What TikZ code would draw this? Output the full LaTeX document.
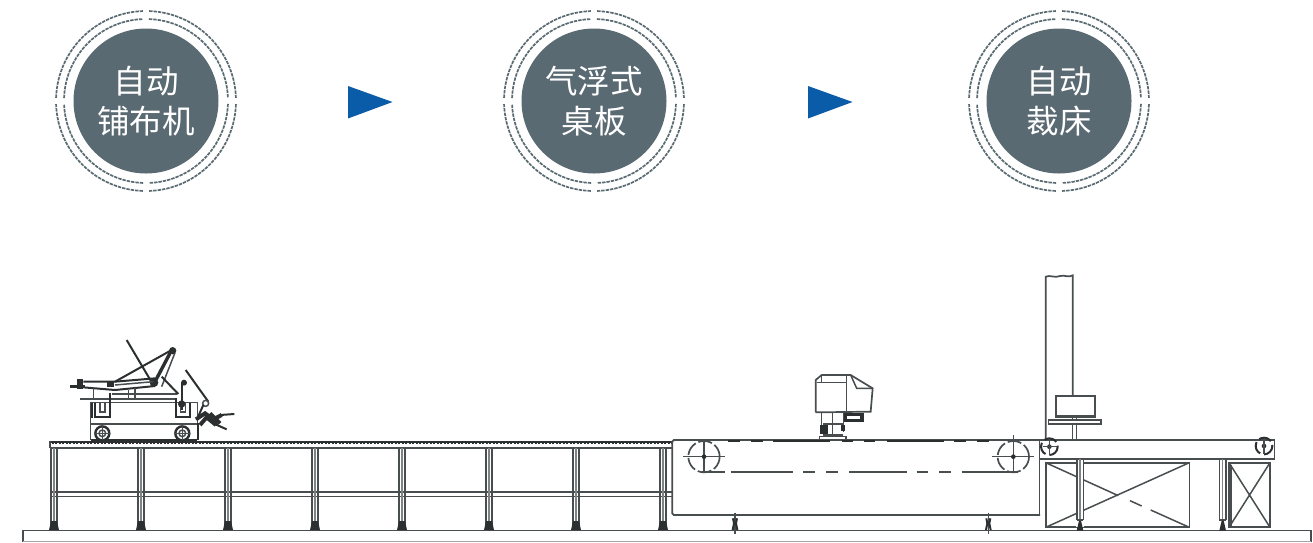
\documentclass[tikz,border=0pt]{standalone}
\usepackage{fontspec}
\setmainfont{Noto Sans CJK SC}
\definecolor{disc}{HTML}{5A6A72}
\definecolor{ink}{HTML}{484E50}
\definecolor{inkdark}{HTML}{2B2F30}
\definecolor{arrowblue}{HTML}{0B5CA8}
\tikzset{
  discnode/.style={circle,fill=disc,minimum size=145pt,inner sep=0pt,text=white,align=center,
    font=\fontsize{32.5}{40}\selectfont},
  ringline/.style={draw=disc,line width=1.7pt,dash pattern=on 3.4pt off 1pt},
  flowtip/.style={fill=arrowblue,draw=none},
  mech/.style={draw=ink,line width=1.5pt},
  mechthin/.style={draw=ink!70,line width=1.1pt},
  mechbold/.style={draw=inkdark,line width=2pt},
  mechheavy/.style={draw=inkdark,line width=3.4pt},
  belt/.style={draw=ink,line width=1.7pt},
}
\newcommand{\stationdisc}[4]{%
  \node[discnode] (#1) at (#2,101) {#3\\[0pt]#4};
  \foreach \qa in {0,90,180,270}{
    \foreach \rr in {82,90}{
      \draw[ringline] ($(#1.center)+(\qa+2:\rr pt and -\rr pt)$) arc[start angle=\qa+2,end angle=\qa+88,radius=\rr];
    }
  }
}
\newcommand{\tableleg}[1]{%
  \draw[mech] (#1-3,448) -- (#1-3,525) (#1+3,448) -- (#1+3,525);
  \draw[mechthin] (#1,448) -- (#1,525);
  \fill[inkdark] (#1-5,530) -- (#1-3,521) -- (#1+3,521) -- (#1+5,530) -- cycle;
}
\usetikzlibrary{calc}
\begin{document}
\begin{tikzpicture}[x=1pt,y=-1pt]
\useasboundingbox (0,0) rectangle (1313,542);
\stationdisc{stationa}{146}{自动}{铺布机}
\stationdisc{stationb}{594}{气浮式}{桌板}
\stationdisc{stationc}{1059}{自动}{裁床}
\fill[flowtip] (348,86) -- (392.5,102) -- (348,118.5) -- cycle;
\fill[flowtip] (808,86) -- (852.5,102) -- (808,118.5) -- cycle;

% floor
\draw[mech,line width=1.9pt] (23,541.5) -- (23,530.5) -- (1311,530.5) -- (1311,541.5);
\draw[draw=ink!50,line width=1.2pt] (23,541.5) -- (1311,541.5);

% spreading table
\draw[mechheavy] (50,442.5) -- (672,442.5);
\draw[draw=white,line width=1pt,dash pattern=on 1.5pt off 2pt] (50,443) -- (672,443);
\draw[mech] (50,448) -- (672,448) (50,440.5) -- (50,448);
\draw[mech] (52,492) -- (672,492) (52,496.5) -- (672,496.5);
\foreach \lx in {54,141,228,315,402,489,576,663}{\tableleg{\lx}}

% spreading machine
\begin{scope}[shift={(40,330)},scale=1/3]
  \draw[mech] (152,330) -- (152,218) -- (472,218) -- (472,330);
  \draw[mech] (120,207) -- (410,207);
  \draw[mech] (215,192) -- (410,192) (152,282) -- (472,282);
  \draw[mechbold] (152,330) -- (472,330);
  \foreach \wx in {187,427}{
    \draw[mechbold,line width=2.4pt] (\wx,310) circle[radius=21];
    \draw[mech] (\wx,310) circle[radius=10];
    \draw[mech] (\wx-24,310) -- (\wx+24,310) (\wx,286) -- (\wx,330);
  }
  \draw[mechbold] (165,218) -- (165,262) -- (210,262) -- (210,190);
  \draw[mech] (180,218) -- (180,246) -- (195,246) -- (195,218);
  \draw[mechbold] (408,205) -- (408,262) -- (450,262) -- (450,218);
  \draw[mech] (422,218) -- (422,246) -- (436,246) -- (436,218);
  \draw[mechbold] (155,220) -- (155,265);
  % bed and arms
  \draw[mechbold] (260,30) -- (340,165);
  \draw[mechbold] (395,60) -- (225,155);
  \draw[mechheavy] (345,155) -- (395,60);
  \draw[mech] (365,170) -- (405,68);
  \fill[inkdark] (398,62) circle[radius=11] (342,158) circle[radius=13];
  \draw[mechheavy] (90,170) -- (135,170);
  \fill[inkdark] (110,148) rectangle (130,178);
  \draw[mechbold] (130,155) -- (225,155) -- (345,145);
  \draw[mechbold] (130,172) -- (225,180) -- (345,168);
  \draw[mech] (225,165) -- (340,155);
  \fill[inkdark] (200,155) rectangle (222,172);
  \draw[mechbold] (365,140) -- (415,192);
  \draw[mech] (160,172) -- (160,205) (265,180) -- (265,205) (285,175) -- (285,205);
  % right side gear
  \draw[mechbold] (425,155) -- (425,240);
  \fill[inkdark] (432,158) circle[radius=9] (425,222) circle[radius=11];
  \draw[mechbold] (437,120) -- (505,215);
  \draw[mech] (497,220) circle[radius=9];
  \draw[mechbold] (490,225) -- (470,270);
  \draw[mechheavy,line width=4pt] (468,268) -- (495,250) -- (520,268) -- (545,255) (480,285) -- (500,262) -- (528,285) (510,250) -- (540,280);
  \draw[mechbold] (540,255) -- (583,252) (520,280) -- (560,298);
  \draw[mechbold] (475,280) -- (475,330);
\end{scope}

% air-float table and cutter
\begin{scope}[shift={(660,360)},scale=1/3]
  \draw[mech,line width=1.7pt,rounded corners=1.5pt] (1140,240) -- (37,240) -- (37,465) -- (1140,465);
  \foreach \sa/\sb in {205/240,272/308,340/510,545/580,612/645,680/853,883/918,952/988}{
    \draw[mechbold,line width=2.2pt] (\sa,244) -- (\sb,244);
  }
  \foreach \sa/\sb in {125/195,212/400,430/465,498/535,568/740,770/805,838/873,905/1075}{
    \draw[belt] (\sa,335) -- (\sb,335);
  }
  \foreach \px in {132,1060}{
    \draw[belt,dash pattern=on 14pt off 3pt] (\px,290) circle[radius=47];
    \draw[mech] (\px-63,290) -- (\px+63,290);
    \draw[mech] (\px,\ifnum\px=132 245\else 225\fi) -- (\px,335);
    \fill[inkdark] (\px,290) circle[radius=7];
  }
  \foreach \fx in {225,985}{
    \draw[mech] (\fx,458) -- (\fx,522);
    \draw[mechbold] (\fx-6,475) -- (\fx-3,490) -- (\fx-7,510) (\fx+6,475) -- (\fx+3,490) -- (\fx+7,510);
  }
  % cutter head
  \draw[mech,line width=1.7pt] (467,157) -- (467,60) -- (485,45) -- (572,45) -- (638,85) -- (632,155) -- (467,157);
  \draw[mech] (470,68) -- (560,68) (485,45) -- (485,68) (560,45) -- (560,157);
  \draw[mech] (572,45) -- (590,85) -- (638,85);
  \draw[mech] (485,157) -- (485,200) (517,157) -- (517,225) (550,157) -- (550,215);
  \draw[mech] (490,192) -- (550,192) (490,225) -- (550,225);
  \fill[inkdark] (480,195) rectangle (503,222);
  \fill[inkdark] (542,195) rectangle (555,212);
  \fill[inkdark] (552,160) rectangle (612,186);
  \fill[white] (560,169) rectangle (600,177);
  \draw[mech] (478,237) -- (478,230) -- (558,230) -- (558,237);
\end{scope}

% cutting table
\begin{scope}[shift={(1030,270)},scale=1/3]
  \draw[mech,line width=1.7pt] (0,509) -- (733,509) -- (733,567) -- (28,567);
  \draw[mech] (28,509) -- (28,737) -- (0,737);
  % column with broken top
  \draw[mech,line width=1.7pt] (47,509) -- (47,20) .. controls (60,14) and (75,25) .. (90,18) .. controls (105,14) and (115,24) .. (128,16) -- (128,378);
  % monitor and shelf
  \draw[mech,line width=1.7pt] (78,378) rectangle (195,442);
  \draw[mech] (78,436) -- (195,436);
  \draw[mech,line width=1.7pt] (55,450) rectangle (212,462);
  \draw[mech] (127,462) -- (127,509) (140,462) -- (140,509) (127,442) -- (127,450) (140,442) -- (140,450);
  % rollers
  \foreach \rx/\ry in {58/530,702/528}{
    \draw[mechbold,dash pattern=on 13pt off 4pt] (\rx,\ry) circle[radius=25];
    \fill[inkdark] (\rx,\ry) circle[radius=7];
    \draw[mech,line width=1.1pt] (\rx,\ry-22) -- (\rx,\ry+24);
  }
  \draw[mech,line width=1.1pt] (38,530) -- (80,530);
  % crossed frames
  \draw[mech,line width=1.7pt] (47,578) rectangle (478,772);
  \draw[mech,line width=1.7pt] (597,578) rectangle (720,772);
  \draw[mech] (603,584) -- (603,772);
  \draw[mech] (47,578) -- (265,677) (47,772) -- (478,578);
  \draw[mech] (300,692) -- (335,708) (362,720) -- (478,772);
  \draw[mech] (597,578) -- (720,772) (720,578) -- (597,772);
  % legs
  \foreach \lgx in {150,578}{
    \fill[white] (\lgx-12,570) rectangle (\lgx+12,772);
    \draw[mech,line width=1.7pt] (\lgx-36,567) -- (\lgx+36,567);
    \draw[mech,line width=1.7pt] (\lgx-10,567) -- (\lgx-10,750) (\lgx+10,567) -- (\lgx+10,750);
    \draw[mechthin] (\lgx,567) -- (\lgx,750);
    \draw[mech] (\lgx-10,750) -- (\lgx+10,750);
    \fill[inkdark] (\lgx-10,782) -- (\lgx-3,752) -- (\lgx+3,752) -- (\lgx+10,782) -- cycle;
  }
\end{scope}
\end{tikzpicture}
\end{document}
